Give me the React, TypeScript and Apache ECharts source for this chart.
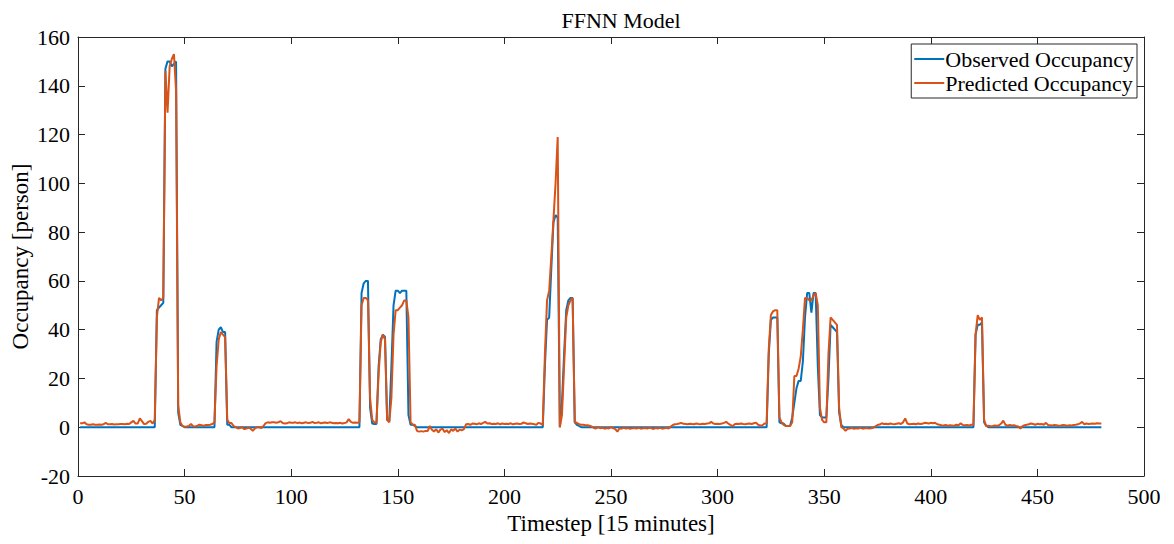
import React, { useEffect, useRef } from "react";
import * as echarts from "echarts";

// Timesteps run 1..480
const observed: number[] = [
  // t1-20
  0, 0, 0, 0, 0, 0, 0, 0, 0, 0, 0, 0, 0, 0, 0, 0, 0, 0, 0, 0,
  // t21-40
  0, 0, 0, 0, 0, 0, 0, 0, 0, 0, 0, 0, 0, 0, 0, 0, 48, 49, 50, 51,
  // t41-60
  147, 150, 150, 148, 149, 150, 6, 1, 0.5, 0, 0, 0, 0, 0, 0, 0, 0, 0, 0, 0,
  // t61-80
  0, 0, 0, 0, 35, 40, 41, 39, 39, 1, 1, 0, 0, 0, 0, 0, 0, 0, 0, 0,
  // t81-100
  0, 0, 0, 0, 0, 0, 0, 0, 0, 0, 0, 0, 0, 0, 0, 0, 0, 0, 0, 0,
  // t101-120
  0, 0, 0, 0, 0, 0, 0, 0, 0, 0, 0, 0, 0, 0, 0, 0, 0, 0, 0, 0,
  // t121-140
  0, 0, 0, 0, 0, 0, 0, 0, 0, 0, 0, 0, 55, 59, 60, 60, 8, 1.5, 1.3, 1.3,
  // t141-160
  25, 36, 38, 37, 3, 2.5, 25, 50, 56, 56, 55, 56, 56, 56, 5, 1, 1, 0.5, 0, 0,
  // t161-180
  0, 0, 0, 0, 0, 0, 0, 0, 0, 0, 0, 0, 0, 0, 0, 0, 0, 0, 0, 0,
  // t181-200
  0, 0, 0, 0, 0, 0, 0, 0, 0, 0, 0, 0, 0, 0, 0, 0, 0, 0, 0, 0,
  // t201-220
  0, 0, 0, 0, 0, 0, 0, 0, 0, 0, 0, 0, 0, 0, 0, 0, 0, 0, 25, 44,
  // t221-240
  45, 65, 84, 87, 86, 0, 10, 30, 48, 52, 53, 53, 2, 1, 0.5, 0, 0, 0, 0, 0,
  // t241-260
  0, 0, 0, 0, 0, 0, 0, 0, 0, 0, 0, 0, 0, 0, 0, 0, 0, 0, 0, 0,
  // t261-280
  0, 0, 0, 0, 0, 0, 0, 0, 0, 0, 0, 0, 0, 0, 0, 0, 0, 0, 0, 0,
  // t281-300
  0, 0, 0, 0, 0, 0, 0, 0, 0, 0, 0, 0, 0, 0, 0, 0, 0, 0, 0, 0,
  // t301-320
  0, 0, 0, 0, 0, 0, 0, 0, 0, 0, 0, 0, 0, 0, 0, 0, 0, 0, 0, 0,
  // t321-340
  0, 0, 0, 30, 44, 45, 45, 45, 2, 1.6, 1.5, 0.5, 0.5, 0.5, 4, 10, 16, 19, 19, 27,
  // t341-360
  45, 55, 55, 47, 55, 55, 25, 5, 4, 4, 4, 20, 42, 41, 40, 39, 6, 1, 0, 0,
  // t361-380
  0, 0, 0, 0, 0, 0, 0, 0, 0, 0, 0, 0, 0, 0, 0, 0, 0, 0, 0, 0,
  // t381-400
  0, 0, 0, 0, 0, 0, 0, 0, 0, 0, 0, 0, 0, 0, 0, 0, 0, 0, 0, 0,
  // t401-420
  0, 0, 0, 0, 0, 0, 0, 0, 0, 0, 0, 0, 0, 0, 0, 0, 0, 0, 0, 0,
  // t421-440
  38, 42, 42, 43, 2, 0.5, 0, 0, 0, 0, 0, 0, 0, 0, 0, 0, 0, 0, 0, 0,
  // t441-460
  0, 0, 0, 0, 0, 0, 0, 0, 0, 0, 0, 0, 0, 0, 0, 0, 0, 0, 0, 0,
  // t461-480
  0, 0, 0, 0, 0, 0, 0, 0, 0, 0, 0, 0, 0, 0, 0, 0, 0, 0, 0, 0,
];

const predicted: number[] = [
  // t1-20
  1.6, 1.6, 2, 1.2, 1, 1, 1.2, 1, 1, 1.1, 1, 1.2, 1.8, 1.2, 1.2, 1.3, 1.1, 1.2, 1.2, 1.3,
  // t21-40
  1.3, 1.2, 1.4, 1.3, 2, 2.6, 1.5, 1.5, 3.6, 2.5, 1.3, 1.4, 2.2, 2.6, 1.5, 3, 45, 53, 52, 53,
  // t41-60
  146, 129, 148, 151, 153, 138, 9, 2, 0.5, 0.2, 0.3, 0.5, 1.3, 0.4, 0.3, 0.6, 1, 0.8, 0.6, 0.9,
  // t61-80
  0.9, 1, 1.3, 2, 25, 36, 39, 38, 37, 3, 1.7, 1.7, 0.5, 0, -0.5, -0.3, 0, -0.8, -0.5, -0.2,
  // t81-100
  -0.6, -1.5, -0.5, 0, 0, -0.3, 0.5, 1.7, 2, 1.8, 2, 2, 1.8, 2, 2.5, 1.7, 1.5, 1.6, 2, 1.8,
  // t101-120
  1.8, 2, 1.7, 1.9, 1.6, 1.8, 2, 1.7, 1.8, 2.2, 1.7, 1.8, 2, 1.6, 1.8, 1.9, 1.7, 2, 1.8, 1.6,
  // t121-140
  1.7, 1.6, 1.8, 1.5, 1.7, 2, 3.3, 2.2, 1.8, 1.9, 1.8, 2, 50, 53, 53, 52, 12, 3, 2, 1.8,
  // t141-160
  22, 35, 38, 36, 3, 2, 12, 38, 48, 48, 49, 50, 52, 52, 45, 2, 1.1, 1, -1.5, -1.8,
  // t161-180
  -1.6, -1.8, -1.5, -1.6, 0.5, -1, -1.8, -0.8, -2.2, -1, -0.6, -2, -1.2, -2.4, -0.9, -1.5, -0.5, -1.8, -1, -1.3,
  // t181-200
  -0.8, 1.2, 1.3, 1, 1.5, 1.4, 1.2, 1.6, 1.3, 1.8, 2.2, 1.5, 1.6, 1.3, 1.4, 1.3, 1.6, 1.2, 1.5, 1.3,
  // t201-220
  1.4, 1.3, 1.6, 1.2, 1.4, 1.5, 1.3, 1.4, 2, 1.6, 1.3, 1.5, 1.4, 1.2, 1, 1.8, 1.5, 1, 30, 52,
  // t221-240
  56, 70, 85, 100, 119, 0, 5, 25, 45, 50, 52, 53, 2, 1.8, 1.2, 1, 1, 0.8, 0.8, 0.6,
  // t241-260
  0.2, -0.3, -0.5, 0, -0.4, -0.2, -0.6, -0.3, -0.5, 0, -0.4, -0.8, -1.8, -0.4, -0.6, -0.2, -0.5, -0.3, -0.6, -0.4,
  // t261-280
  -0.3, -0.5, -0.2, -0.6, -0.4, -0.3, -0.5, -0.2, -0.4, -0.7, -0.3, -0.5, -0.2, -0.6, -0.4, -0.2, -0.5, 0.3, 0.9, 1.2,
  // t281-300
  1.3, 1.5, 1.8, 1.4, 1.3, 1.2, 1.4, 1.3, 1.2, 1.5, 1.3, 1.2, 1.4, 1.3, 1.5, 1.6, 2.2, 1.5, 1.3, 1.4,
  // t301-320
  1.3, 1.5, 1.8, 2.2, 1.5, 1, 0.4, 1.2, 1.4, 1.3, 1.5, 1.3, 1.2, 1.4, 1.5, 1.3, 1.6, 1.9, 1, 0.7,
  // t321-340
  0.8, 1.5, 1.5, 32, 46, 47.5, 48, 48, 4, 2, 1, 0.5, 0.5, 0.5, 2, 21, 21, 24, 29, 40,
  // t341-360
  53, 53, 52, 52, 54, 55, 50, 8, 3, 2, 2, 30, 45, 44, 43, 42, 8, 0, -0.5, -1.5,
  // t361-380
  -0.6, -0.5, -0.3, -0.6, -0.4, -0.5, -0.2, -0.6, -0.4, -0.3, -0.5, -0.4, -0.2, 0.4, 0.9, 1.1, 1.6, 1.3, 1.4, 1.2,
  // t381-400
  1.5, 1.3, 1.2, 1.4, 1.6, 1.3, 2, 3.6, 1.5, 1.2, 1.3, 1.4, 1.2, 1.5, 1.3, 1.4, 1.8, 1.7, 1.5, 1.8,
  // t401-420
  1.6, 1.8, 1.2, 1, 0.8, 0.7, 0.9, 0.6, 0.8, 0.7, 0.6, 1, 0.8, 1.6, 0.9, 0.8, 0.9, 0.7, 1, 1,
  // t421-440
  38, 46, 44, 45, 3, 0.5, 0.6, 0.4, 0.5, 0.7, 0.6, 0.8, 1.5, 2.7, 1, 0.6, 0.9, 0.7, 0.8, 0.5,
  // t441-460
  0.3, -0.5, 0.4, 0.8, 1, 1.2, 1.5, 1.3, 1, 1.4, 1.2, 1.3, 1, 1.8, 0.9, 0.8, 0.7, 0.9, 0.8, 0.6,
  // t461-480
  0.7, 0.9, 0.8, 0.6, 0.8, 0.7, 0.9, 1, 1.2, 1.6, 2.2, 1.2, 1.5, 1.3, 1.4, 1.5, 1.4, 1.6, 1.5, 1.5,
];

const seriesNames = ["Observed Occupancy", "Predicted Occupancy"];
const titleText = "FFNN Model";
const xName = "Timestep [15 minutes]";
const yName = "Occupancy [person]";

const FONT = "Liberation Serif";
const AXIS_COLOR = "#262626";

export default function App() {
  const ref = useRef<HTMLDivElement>(null);

  useEffect(() => {
    if (!ref.current) return;
    const chart = echarts.init(ref.current, null, { renderer: "svg" });

    const baseX = {
      type: "value" as const,
      min: 0,
      max: 500,
      interval: 50,
      splitLine: { show: false },
      axisLine: { show: true, onZero: false, lineStyle: { color: AXIS_COLOR, width: 1 } },
      axisTick: { show: true, inside: true, length: 7, lineStyle: { color: AXIS_COLOR } },
    };
    const baseY = {
      type: "value" as const,
      min: -20,
      max: 160,
      interval: 20,
      splitLine: { show: false },
      axisLine: { show: true, onZero: false, lineStyle: { color: AXIS_COLOR, width: 1 } },
      axisTick: { show: true, inside: true, length: 7, lineStyle: { color: AXIS_COLOR } },
    };

    chart.setOption({
      animation: false,
      backgroundColor: "#ffffff",
      title: {
        text: titleText,
        left: 616,
        textAlign: "center",
        top: 4,
        textStyle: { fontFamily: FONT, fontSize: 22, fontWeight: "normal", color: "#000" },
      },
      legend: {
        data: seriesNames,
        orient: "vertical",
        right: 37,
        top: 44,
        icon: "rect",
        itemWidth: 30,
        itemHeight: 2,
        itemGap: 2,
        padding: [4, 3, 4, 3],
        backgroundColor: "#fff",
        borderColor: AXIS_COLOR,
        borderWidth: 1,
        textStyle: { fontFamily: FONT, fontSize: 22, color: "#000", padding: [0, 0, 0, -4] },
      },
      grid: {
        left: 78,
        right: 30,
        top: 37,
        bottom: 68,
        containLabel: false,
        outerBoundsMode: "none",
      },
      xAxis: [
        {
          ...baseX,
          position: "bottom",
          name: xName,
          nameLocation: "middle",
          nameGap: 36,
          nameMoveOverlap: false,
          nameTextStyle: { fontFamily: FONT, fontSize: 23, color: "#000" },
          axisLabel: { fontFamily: FONT, fontSize: 22, color: "#000", margin: 9 },
        },
        { ...baseX, position: "top", axisLabel: { show: false } },
      ],
      yAxis: [
        {
          ...baseY,
          position: "left",
          name: yName,
          nameLocation: "middle",
          nameGap: 46,
          nameMoveOverlap: false,
          nameTextStyle: { fontFamily: FONT, fontSize: 23, color: "#000" },
          axisLabel: { fontFamily: FONT, fontSize: 22, color: "#000", margin: 8 },
        },
        { ...baseY, position: "right", axisLabel: { show: false } },
      ],
      series: [
        {
          name: seriesNames[0],
          type: "line",
          xAxisIndex: 0,
          yAxisIndex: 0,
          data: observed.map((v, i) => [i + 1, v]),
          symbol: "none",
          showSymbol: false,
          lineStyle: { color: "#0072BD", width: 2 },
          itemStyle: { color: "#0072BD" },
        },
        {
          name: seriesNames[1],
          type: "line",
          xAxisIndex: 0,
          yAxisIndex: 0,
          data: predicted.map((v, i) => [i + 1, v]),
          symbol: "none",
          showSymbol: false,
          lineStyle: { color: "#D95319", width: 2 },
          itemStyle: { color: "#D95319" },
        },
      ],
    });

    return () => chart.dispose();
  }, []);

  return (
    <div
      ref={ref}
      style={{ position: "fixed", left: 0, top: 0, width: 1174, height: 544, background: "#fff" }}
    />
  );
}
